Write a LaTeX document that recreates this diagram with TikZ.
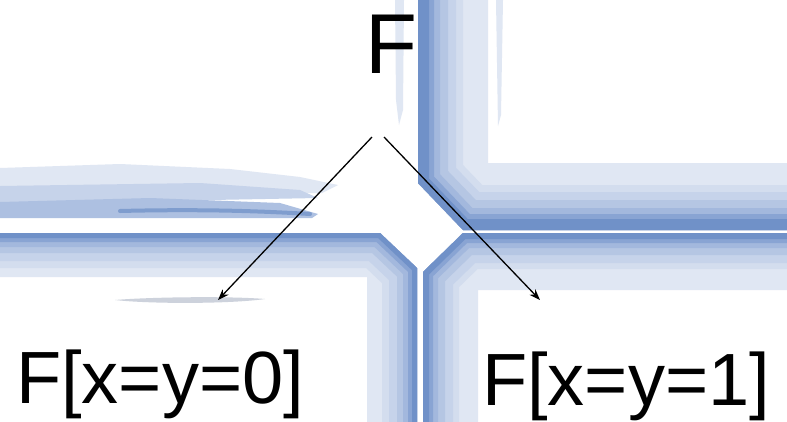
\documentclass[tikz,border=0pt]{standalone}
\usepackage{fontspec}
\setmainfont{Liberation Sans}
\usetikzlibrary{arrows.meta}
\definecolor{bA}{RGB}{224,231,243}
\definecolor{bB}{RGB}{198,211,234}
\definecolor{bC}{RGB}{163,184,221}
\definecolor{bD}{RGB}{112,145,200}
\definecolor{bG}{RGB}{205,210,220}
\begin{document}
\begin{tikzpicture}[x=1pt,y=-1pt,
  lbl/.style={inner sep=0pt, anchor=base west},
  arr/.style={-{Stealth[length=11pt,width=8pt]}, line width=1.3pt, black},
  edge1/.style={line join=miter, line width=#1}]
\useasboundingbox (0,0) rectangle (787,421);
\fill[white] (0,0) rectangle (787,421);

% faint vertical strokes
\fill[bA] (395,0) -- (404,0) -- (403,110) -- (399,125) -- (396,100) -- cycle;
\fill[bA] (496,0) -- (503,0) -- (501,115) -- (498,126) -- cycle;

% upper-left brush strokes
\fill[bA] (0,168) -- (120,164) -- (230,169) -- (300,177) -- (338,185) -- (322,193) -- (0,196) -- cycle;
\fill[bB] (0,186) -- (200,183) -- (300,190) -- (318,198) -- (0,204) -- cycle;
\fill[bC!70!bB] (0,202) -- (150,198) -- (280,203) -- (318,214) -- (312,218) -- (0,218) -- cycle;
\draw[bD!70!bC, line width=4pt, line cap=round] (120,211) .. controls (200,209) and (260,211) .. (310,214);
\fill[bG] (115,300) .. controls (150,297) and (230,296) .. (265,299) .. controls (230,304) and (150,304) .. (115,300) -- cycle;

% upper-right frame
\begin{scope}
\clip (418,-10) -- (418,183) -- (463,230) -- (800,230) -- (800,163) -- (488,163) -- (488,-10) -- cycle;
\fill[bA] (0,-10) rectangle (800,430);
\foreach \w/\c in {90/bA!50!bB, 76/bB, 60/bB!50!bC, 44/bC, 32/bC!50!bD, 22/bD}
  \draw[\c, edge1=\w pt] (418,-60) -- (418,183) -- (463,230) -- (850,230);
\end{scope}

% lower-right frame
\begin{scope}
\clip (423,440) -- (423,272) -- (463,233) -- (800,233) -- (800,290) -- (478,290) -- (478,440) -- cycle;
\fill[bA] (0,-10) rectangle (800,430);
\foreach \w/\c in {72/bA!50!bB, 60/bB, 44/bB!50!bC, 30/bC, 20/bC!50!bD, 12/bD}
  \draw[\c, edge1=\w pt] (423,480) -- (423,272) -- (463,233) -- (850,233);
\end{scope}

% lower-left frame
\begin{scope}
\clip (-10,233) -- (380,233) -- (417,268) -- (417,440) -- (367,440) -- (367,277) -- (-10,277) -- cycle;
\fill[bA] (-10,-10) rectangle (800,430);
\foreach \w/\c in {70/bA!50!bB, 56/bB, 40/bB!50!bC, 28/bC, 18/bC!50!bD, 10/bD}
  \draw[\c, edge1=\w pt] (-60,233) -- (380,233) -- (417,268) -- (417,480);
\end{scope}

% texts
\node[lbl, font=\fontsize{85}{85}\selectfont] (F) at (365,73) {F};
\node[lbl, font=\fontsize{74}{74}\selectfont] (L) at (16,403) {F[x=y=0]};
\node[lbl, font=\fontsize{74}{74}\selectfont] (R) at (482,405) {F[x=y=1]};

% arrows
\coordinate (s1) at (372,137);
\coordinate (t1) at (218,300);
\coordinate (s2) at (384,137);
\coordinate (t2) at (540,300);
\draw[arr] (s1) -- (t1);
\draw[arr] (s2) -- (t2);
\end{tikzpicture}
\end{document}
